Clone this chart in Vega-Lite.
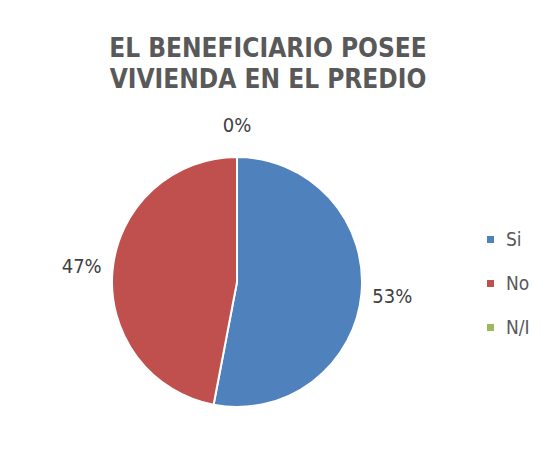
{
  "$schema": "https://vega.github.io/schema/vega-lite/v6.json",
  "autosize": {"type": "none"},
  "width": 474,
  "height": 250,
  "padding": {"left": 0, "top": 157, "right": 71, "bottom": 49},
  "background": "white",
  "config": {"view": {"stroke": null}},
  "title": {
    "text": ["EL BENEFICIARIO POSEE", "VIVIENDA EN EL PREDIO"],
    "font": "DejaVu Sans Condensed, Liberation Sans Narrow, Liberation Sans",
    "fontSize": 26,
    "fontWeight": "bold",
    "color": "#595959",
    "lineHeight": 31,
    "anchor": "middle",
    "dx": 31,
    "offset": 23
  },
  "data": {
    "values": [
      {"categoria": "Si", "valor": 0.53, "orden": 1},
      {"categoria": "No", "valor": 0.47, "orden": 2},
      {"categoria": "N/I", "valor": 0.0, "orden": 3}
    ]
  },
  "encoding": {
    "theta": {"field": "valor", "type": "quantitative", "stack": true},
    "order": {"field": "orden", "type": "quantitative"},
    "color": {
      "field": "categoria",
      "type": "nominal",
      "sort": ["Si", "No", "N/I"],
      "scale": {"domain": ["Si", "No", "N/I"], "range": ["#4F81BD", "#C0504D", "#9BBB59"]},
      "legend": {
        "title": null,
        "orient": "none",
        "legendX": 481,
        "legendY": 73,
        "symbolType": "square",
        "symbolSize": 49,
        "symbolStrokeWidth": 0,
        "labelFont": "DejaVu Sans Condensed, Liberation Sans Narrow, Liberation Sans",
        "labelFontSize": 19,
        "labelColor": "#595959",
        "labelOffset": 6,
        "rowPadding": 24
      }
    }
  },
  "layer": [
    {
      "mark": {"type": "arc", "outerRadius": 125, "stroke": "white", "strokeWidth": 2}
    },
    {
      "mark": {"type": "text", "radius": 156, "font": "DejaVu Sans Condensed, Liberation Sans Narrow, Liberation Sans", "fontSize": 20, "align": "center", "baseline": "middle"},
      "encoding": {
        "text": {"field": "valor", "type": "quantitative", "format": ".0%"},
        "color": {"value": "#404040"}
      }
    }
  ]
}
